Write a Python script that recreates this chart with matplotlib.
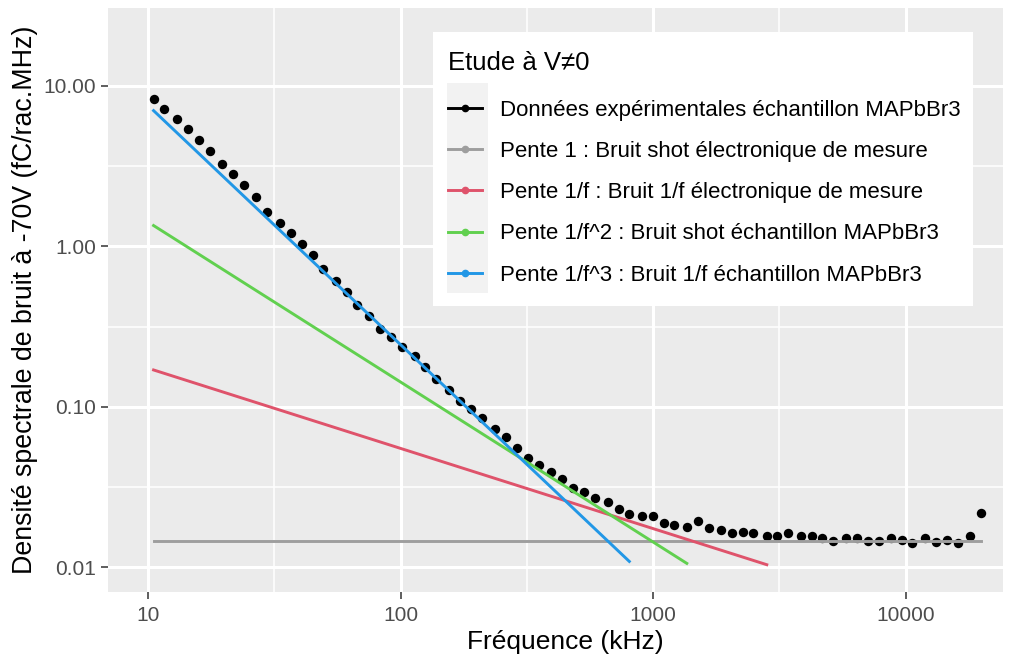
import matplotlib
matplotlib.use("Agg")
import matplotlib.pyplot as plt
from matplotlib.lines import Line2D
from matplotlib.patches import Rectangle


# measured spectrum (kHz, fC/rac.MHz)
freq_khz = [10.5, 11.6, 13.0, 14.4, 15.9, 17.5, 19.6, 21.7, 24.0, 26.8,
            29.5, 33.3, 36.8, 40.5, 44.8, 49.4, 55.3, 61.1, 67.3, 75.1,
            82.8, 91.6, 101, 114, 125, 138, 155, 172, 189, 209,
            236, 261, 288, 320, 354, 393, 434, 483, 532, 589,
            663, 733, 804, 900, 1000, 1104, 1213, 1358, 1500, 1656,
            1857, 2057, 2261, 2490, 2816, 3100, 3428, 3839, 4244, 4673,
            5167, 5776, 6397, 7073, 7860, 8724, 9640, 10560, 11920, 13180,
            14530, 16150, 17990, 19870]
density = [8.30, 7.16, 6.26, 5.37, 4.61, 3.94, 3.27, 2.82, 2.42, 2.03,
           1.65, 1.40, 1.21, 1.04, 0.881, 0.724, 0.610, 0.519, 0.432, 0.371,
           0.308, 0.274, 0.238, 0.208, 0.177, 0.149, 0.128, 0.109, 0.0968, 0.0853,
           0.0733, 0.0653, 0.0553, 0.0483, 0.0435, 0.0392, 0.0355, 0.0311, 0.0294, 0.0271,
           0.0254, 0.0232, 0.0216, 0.0209, 0.0209, 0.0188, 0.0184, 0.0179, 0.0196, 0.0175,
           0.0171, 0.0163, 0.0167, 0.0163, 0.0158, 0.0158, 0.0163, 0.0156, 0.0156, 0.0153,
           0.0147, 0.0152, 0.0152, 0.0147, 0.0147, 0.0153, 0.0148, 0.0143, 0.0153, 0.0145,
           0.0148, 0.0143, 0.0157, 0.0219]

# fitted slopes (start / end)
pente1_x = [10.5, 19870]
pente1_y = [0.0146, 0.0146]
pente_f_x = [10.5, 2816]
pente_f_y = [0.170, 0.0104]
pente_f2_x = [10.5, 1358]
pente_f2_y = [1.35, 0.0106]
pente_f3_x = [10.5, 804]
pente_f3_y = [7.02, 0.0109]

labels = [
    "Données expérimentales échantillon MAPbBr3",
    "Pente 1 : Bruit shot électronique de mesure",
    "Pente 1/f : Bruit 1/f électronique de mesure",
    "Pente 1/f^2 : Bruit shot échantillon MAPbBr3",
    "Pente 1/f^3 : Bruit 1/f échantillon MAPbBr3",
]
colors = ["black", "#9E9E9E", "#DF536B", "#61D04F", "#2297E6"]

x_ticks = [10, 100, 1000, 10000]
x_ticklabels = ["10", "100", "1000", "10000"]
y_ticks = [0.01, 0.1, 1, 10]
y_ticklabels = ["0.01", "0.10", "1.00", "10.00"]
x_minor = [31.6, 316, 3162]
y_minor = [0.0316, 0.316, 3.16]

plt.rcParams["font.family"] = ["Liberation Sans", "DejaVu Sans"]


def main():
    fig = plt.figure(figsize=(10.09, 6.60), dpi=100)
    ax = fig.add_axes([108 / 1009, 1 - 592 / 660, 895 / 1009, 584 / 660])
    ax.set_facecolor("#EBEBEB")
    for side in ax.spines.values():
        side.set_visible(False)

    ax.set_xscale("log")
    ax.set_yscale("log")
    ax.set_xlim(6.93, 24270)
    ax.set_ylim(0.00703, 30.6)

    ax.set_xticks(x_ticks)
    ax.set_xticklabels(x_ticklabels)
    ax.set_yticks(y_ticks)
    ax.set_yticklabels(y_ticklabels)
    ax.set_xticks(x_minor, minor=True)
    ax.set_yticks(y_minor, minor=True)
    ax.tick_params(which="minor", length=0, labelbottom=False, labelleft=False)
    ax.tick_params(axis="x", which="major", length=5, width=1.1, color="#333333",
                   labelsize=15, labelcolor="#4D4D4D", pad=5)
    ax.tick_params(axis="y", which="major", length=5, width=1.1, color="#333333",
                   labelsize=15, labelcolor="#4D4D4D", pad=3.5)

    ax.grid(which="major", color="white", linewidth=2.2)
    ax.grid(which="minor", color="white", linewidth=1.1)
    ax.set_axisbelow(True)

    ax.scatter(freq_khz, density, s=46, color=colors[0], zorder=3, linewidths=0)
    ax.plot(pente1_x, pente1_y, color=colors[1], lw=2.1, zorder=3.5)
    ax.plot(pente_f_x, pente_f_y, color=colors[2], lw=2.1, zorder=3.5)
    ax.plot(pente_f2_x, pente_f2_y, color=colors[3], lw=2.1, zorder=3.5)
    ax.plot(pente_f3_x, pente_f3_y, color=colors[4], lw=2.1, zorder=3.5)

    ax.set_xlabel("Fréquence (kHz)", fontsize=19, labelpad=4)
    ax.xaxis.label.set_x(0.511)
    ax.set_ylabel("Densité spectrale de bruit à -70V (fC/rac.MHz)", fontsize=19.3, labelpad=4)

    # legend box + key background (ggplot style)
    ax.add_patch(Rectangle((0.3626, 0.4897), 0.6039, 0.4697, transform=ax.transAxes,
                           facecolor="white", edgecolor="none", zorder=4))
    ax.add_patch(Rectangle((0.3788, 0.512), 0.0458, 0.3596, transform=ax.transAxes,
                           facecolor="#F2F2F2", edgecolor="none", zorder=4.2))

    handles = [Line2D([], [], color=c, lw=2.1, marker="o", markersize=4.5) for c in colors]
    leg = ax.legend(handles, labels, title="Etude à V≠0", loc="upper left",
                    bbox_to_anchor=(0.368, 0.945), frameon=False, borderpad=0,
                    fontsize=16, title_fontsize=18.5, handlelength=1.53,
                    handletextpad=0.77, labelspacing=0.91, alignment="left")
    # a bit more room between the title and the entries
    leg._legend_box.sep += 3
    leg.set_zorder(5)

    fig.savefig("out.png", dpi=100)


if __name__ == "__main__":
    main()
